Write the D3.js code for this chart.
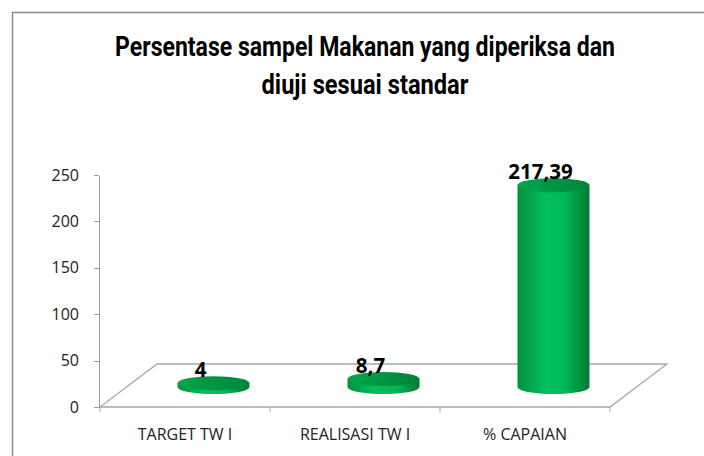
<!DOCTYPE html>
<meta charset="utf-8">
<style>
body { margin: 0; background: #fff; }
.title { font-family: Roboto, "Liberation Sans", sans-serif; font-weight: bold; font-size: 28px; fill: #000; }
.axis path, .axis line { stroke: #9a9a9a; shape-rendering: crispEdges; }
.cat { font-family: "Open Sans", "Liberation Sans", sans-serif; font-size: 16px; fill: #222; }
.lbl { font-family: "Open Sans", "Liberation Sans", sans-serif; font-weight: bold; font-size: 20.5px; fill: #000; }
</style>
<body>
<script src="https://cdn.jsdelivr.net/npm/d3@7"></script>
<script>

var categories = ["TARGET TW I", "REALISASI TW I", "% CAPAIAN"];
var values = [4, 8.7, 217.39];
var valueLabels = ["4", "8,7", "217,39"];
var yTicks = [0, 50, 100, 150, 200, 250];
var titleLines = ["Persentase sampel Makanan  yang diperiksa dan", "diuji sesuai standar"];
var titleWidths = [500, 207];

var width = 704, height = 456;

var svg = d3.select("body").append("svg")
    .attr("width", width)
    .attr("height", height);

// outer chart border
svg.append("rect")
    .attr("x", 12.5).attr("y", 12.5)
    .attr("width", 720).attr("height", 480)
    .attr("fill", "none")
    .attr("stroke", "#8c8c8c")
    .attr("stroke-width", 1.5);

// title, squeezed horizontally to look condensed
svg.selectAll(".title")
    .data(titleLines)
  .enter().append("text")
    .attr("class", "title")
    .attr("text-anchor", "middle")
    .text(function(d) { return d; })
    .attr("transform", function(d, i) {
      var w = this.getComputedTextLength();
      var s = titleWidths[i] / w;
      return "translate(365," + (56 + i * 38) + ") scale(" + s + ",1)";
    });

var y = d3.scaleLinear().domain([0, 250]).range([407, 175]);
var x = d3.scaleBand().domain(categories).range([100, 610]);

// depth of the 3d floor
var depthX = 57, depthY = -43;
var midX = depthX / 2, midY = depthY / 2 + 1.5;

// floor
var x0 = x.range()[0], x1 = x.range()[1], y0 = y(0);
svg.append("path")
    .attr("d", "M" + x0 + "," + y0 + "L" + x1 + "," + y0 +
               "L" + (x1 + depthX) + "," + (y0 + depthY) +
               "L" + (x0 + depthX) + "," + (y0 + depthY) + "Z")
    .attr("fill", "#fff")
    .attr("stroke", "#a6a6a6")
    .attr("stroke-width", 1.3);

// category ticks
svg.selectAll(".ctick")
    .data(categories.concat([null]))
  .enter().append("line")
    .attr("x1", function(d) { return d ? x(d) : x1; })
    .attr("x2", function(d) { return d ? x(d) : x1; })
    .attr("y1", y0).attr("y2", y0 + 5)
    .attr("stroke", "#a6a6a6");

// y axis
var yAxis = svg.append("g")
    .attr("class", "axis")
    .attr("transform", "translate(99,0)")
    .call(d3.axisLeft(y).tickValues(yTicks).tickSize(5).tickSizeOuter(0).tickPadding(15));
yAxis.attr("font-family", "'Open Sans', 'Liberation Sans', sans-serif")
    .attr("font-size", 16);
yAxis.selectAll("text").attr("fill", "#222");

// category labels
svg.selectAll(".cat")
    .data(categories)
  .enter().append("text")
    .attr("class", "cat")
    .attr("x", function(d) { return x(d) + x.bandwidth() / 2; })
    .attr("y", 440)
    .attr("text-anchor", "middle")
    .text(function(d) { return d; });

// gradients
var defs = svg.append("defs");
var g = defs.append("linearGradient").attr("id", "body").attr("x1", 0).attr("x2", 1).attr("y1", 0).attr("y2", 0);
g.append("stop").attr("offset", "0%").attr("stop-color", "#00913f");
g.append("stop").attr("offset", "40%").attr("stop-color", "#00c15c");
g.append("stop").attr("offset", "65%").attr("stop-color", "#00b856");
g.append("stop").attr("offset", "100%").attr("stop-color", "#007a33");

var gt = defs.append("linearGradient").attr("id", "top").attr("x1", 0).attr("x2", 1).attr("y1", 0).attr("y2", 0);
gt.append("stop").attr("offset", "0%").attr("stop-color", "#00a64c");
gt.append("stop").attr("offset", "100%").attr("stop-color", "#00843b");

var rx = 36, ry = 7;

var bars = svg.selectAll(".bar")
    .data(values)
  .enter().append("g")
    .attr("class", "bar");

bars.append("path")
    .attr("d", function(d, i) {
      var cx = x(categories[i]) + x.bandwidth() / 2 + midX;
      var yb = y(0) + midY, yt = y(d) + midY;
      return "M" + (cx - rx) + "," + yt +
             "L" + (cx - rx) + "," + yb +
             "A" + rx + "," + ry + " 0 0 0 " + (cx + rx) + "," + yb +
             "L" + (cx + rx) + "," + yt + "Z";
    })
    .attr("fill", "url(#body)");

bars.append("ellipse")
    .attr("cx", function(d, i) { return x(categories[i]) + x.bandwidth() / 2 + midX; })
    .attr("cy", function(d) { return y(d) + midY; })
    .attr("rx", rx).attr("ry", ry)
    .attr("fill", "url(#top)");

// value labels
svg.selectAll(".lbl")
    .data(values)
  .enter().append("text")
    .attr("class", "lbl")
    .attr("x", function(d, i) { return x(categories[i]) + x.bandwidth() / 2 + midX - 13; })
    .attr("y", function(d) { return y(d) + midY - 6; })
    .attr("text-anchor", "middle")
    .text(function(d, i) { return valueLabels[i]; });

</script>
</body>
